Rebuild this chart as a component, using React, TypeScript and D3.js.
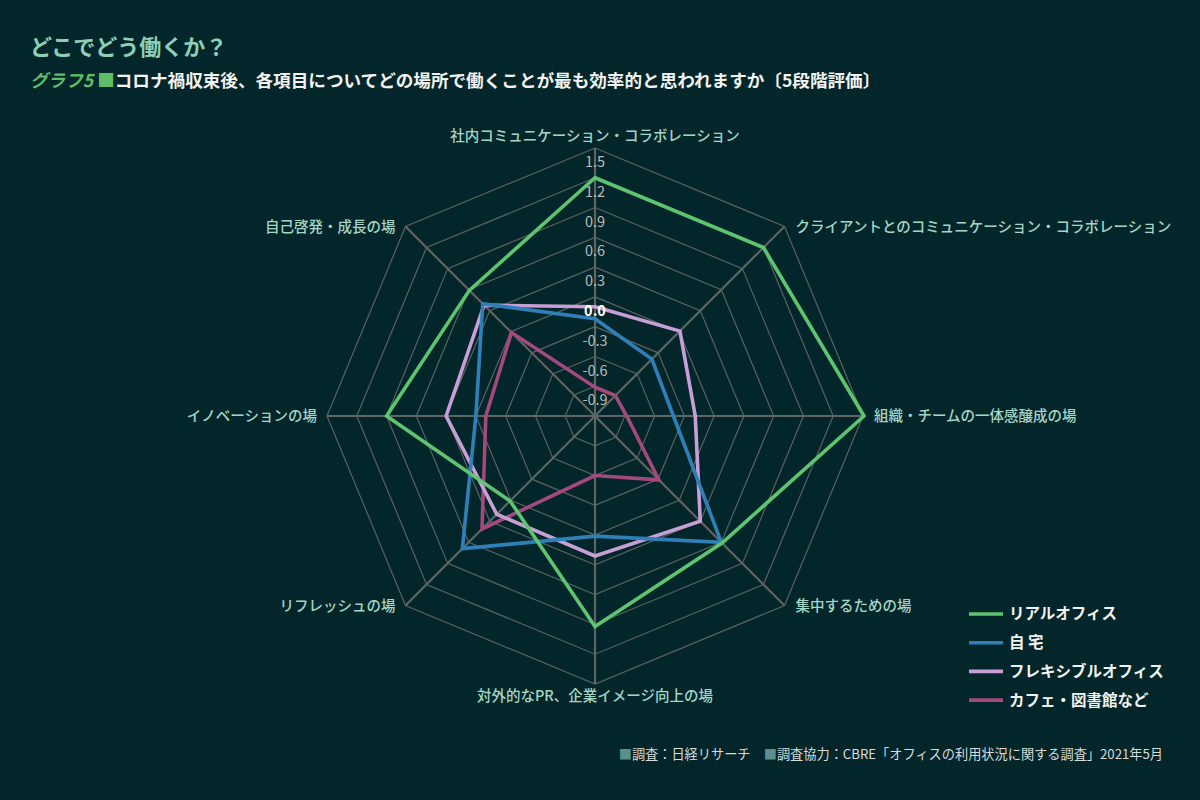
import React, { useEffect, useRef } from 'react';
import * as d3 from 'd3';

const axes = [
  '社内コミュニケーション・コラボレーション',
  'クライアントとのコミュニケーション・コラボレーション',
  '組織・チームの一体感醸成の場',
  '集中するための場',
  '対外的なPR、企業イメージ向上の場',
  'リフレッシュの場',
  'イノベーションの場',
  '自己啓発・成長の場',
];

const seriesNames = ['リアルオフィス', '自 宅', 'フレキシブルオフィス', 'カフェ・図書館など'];
const seriesColors = ['#5ec46f', '#2f80b8', '#c79fd6', '#a3497b'];

const realOffice = [1.2, 1.2, 1.51, 0.61, 0.92, 0.01, 0.9, 0.59];
const home = [-0.22, -0.39, -0.41, 0.6, 0.01, 0.69, 0.0, 0.4];
const flexOffice = [-0.1, 0.01, -0.19, 0.3, 0.21, 0.2, 0.3, 0.38];
const cafe = [-0.91, -0.91, -0.88, -0.29, -0.6, 0.41, -0.1, -0.01];

const ticks = [1.5, 1.2, 0.9, 0.6, 0.3, 0.0, -0.3, -0.6, -0.9];

const FONT = '"Noto Sans CJK JP", "Noto Sans", sans-serif';

const App: React.FC = () => {
  const svgRef = useRef<SVGSVGElement>(null);

  useEffect(() => {
    if (!svgRef.current) return;
    const svg = d3.select(svgRef.current);
    svg.selectAll('*').remove();

    const W = 1200;
    const H = 800;
    const cx = 595;
    const cy = 416;
    const R = 268;

    svg.append('rect').attr('width', W).attr('height', H).attr('fill', '#03262a');

    // titles
    svg.append('text')
      .attr('x', 30).attr('y', 55)
      .attr('fill', '#8ecfb8')
      .style('font-family', FONT).style('font-size', '22px').style('font-weight', 700)
      .text('どこでどう働くか？');

    const sub = svg.append('text')
      .attr('x', 30).attr('y', 87)
      .style('font-family', FONT).style('font-size', '17.6px').style('font-weight', 700);
    sub.append('tspan').attr('fill', '#5dbf66').attr('font-style', 'italic').text('グラフ5 ');
    sub.append('tspan').attr('fill', '#5dbf66').text('■');
    sub.append('tspan').attr('fill', '#f2f2f2')
      .text('コロナ禍収束後、各項目についてどの場所で働くことが最も効率的と思われますか〔5段階評価〕');

    const r = d3.scaleLinear().domain([-1.2, 1.5]).range([0, R]);
    const angle = d3.scaleLinear().domain([0, axes.length]).range([0, 2 * Math.PI]);
    const pt = (i: number, v: number): [number, number] => {
      const a = angle(i);
      return [cx + r(v) * Math.sin(a), cy - r(v) * Math.cos(a)];
    };

    const g = svg.append('g');

    // rings
    ticks.forEach(t => {
      const pts = axes.map((_, i) => pt(i, t));
      g.append('path')
        .attr('d', d3.line()(pts.concat([pts[0]])) as string)
        .attr('fill', 'none')
        .attr('stroke', '#5b625f')
        .attr('stroke-width', 1.2);
    });

    // spokes
    axes.forEach((_, i) => {
      const [x2, y2] = pt(i, 1.5);
      g.append('line')
        .attr('x1', cx).attr('y1', cy).attr('x2', x2).attr('y2', y2)
        .attr('stroke', '#5e6562')
        .attr('stroke-width', 2.2);
    });

    // series
    const allSeries = [realOffice, home, flexOffice, cafe];
    const line = d3.line<number>()
      .x((d, i) => pt(i, d)[0])
      .y((d, i) => pt(i, d)[1])
      .curve(d3.curveLinearClosed);
    [3, 2, 1, 0].forEach(k => {
      g.append('path')
        .attr('d', line(allSeries[k]) as string)
        .attr('fill', 'none')
        .attr('stroke', seriesColors[k])
        .attr('stroke-width', 3.6)
        .attr('stroke-linejoin', 'miter');
    });

    // tick labels
    ticks.forEach(t => {
      g.append('text')
        .attr('x', cx).attr('y', pt(0, t)[1] + 14)
        .attr('dy', '0.35em')
        .attr('text-anchor', 'middle')
        .attr('fill', t === 0 ? '#ffffff' : '#b9bcb9')
        .style('font-family', FONT).style('font-size', '14.5px')
        .style('font-weight', t === 0 ? 700 : 400)
        .text(t.toFixed(1));
    });

    // axis labels
    axes.forEach((name, i) => {
      const [x, y] = pt(i, 1.5);
      const s = Math.sin(angle(i));
      const c = Math.cos(angle(i));
      let anchor = 'middle';
      let lx = x;
      let ly = y;
      if (Math.abs(s) < 1e-6) {
        ly = c > 0 ? y - 12 : y + 12;
      } else if (s > 0) {
        anchor = 'start';
        lx = x + 11;
      } else {
        anchor = 'end';
        lx = x - 10;
      }
      g.append('text')
        .attr('x', lx).attr('y', ly)
        .attr('dy', '0.35em')
        .attr('text-anchor', anchor)
        .attr('fill', '#a3d6c6')
        .style('font-family', FONT).style('font-size', '14.5px').style('font-weight', 500)
        .text(name);
    });

    // legend
    const legend = svg.append('g');
    seriesNames.forEach((name, k) => {
      const y = 614 + k * 28.7;
      legend.append('line')
        .attr('x1', 969).attr('x2', 1003).attr('y1', y).attr('y2', y)
        .attr('stroke', seriesColors[k]).attr('stroke-width', 3.6);
      legend.append('text')
        .attr('x', 1009).attr('y', y).attr('dy', '0.35em')
        .attr('fill', '#f2f2f2')
        .style('font-family', FONT).style('font-size', '15.5px').style('font-weight', 700)
        .text(name);
    });

    // footer
    const foot = svg.append('text')
      .attr('x', 1163).attr('y', 759)
      .attr('text-anchor', 'end')
      .style('font-family', FONT).style('font-size', '13.2px');
    foot.append('tspan').attr('fill', '#5b8f8c').text('■');
    foot.append('tspan').attr('fill', '#d8dcdb').text('調査：日経リサーチ　');
    foot.append('tspan').attr('fill', '#5b8f8c').text('■');
    foot.append('tspan').attr('fill', '#d8dcdb').text('調査協力：CBRE「オフィスの利用状況に関する調査」2021年5月');
  }, []);

  return (
    <svg
      ref={svgRef}
      width={1200}
      height={800}
      style={{ position: 'absolute', left: 0, top: 0, display: 'block' }}
    />
  );
};

export default App;
